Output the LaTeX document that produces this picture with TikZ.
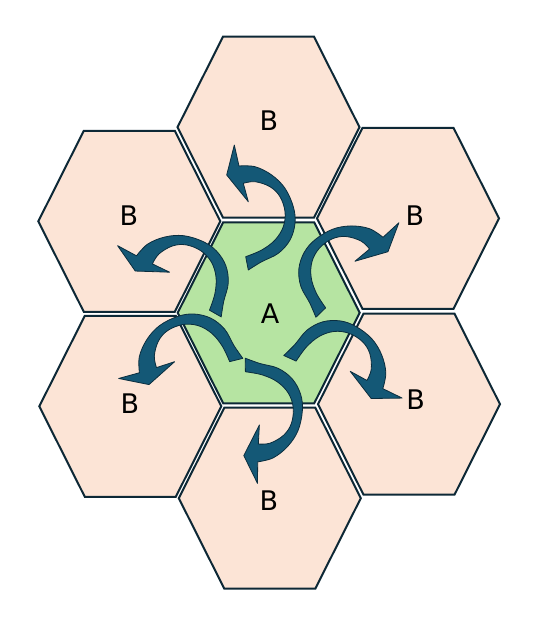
\documentclass[tikz,border=0pt]{standalone}
\usepackage{fontspec}
\setmainfont{DejaVu Sans}
\definecolor{hexline}{RGB}{13,40,54}
\definecolor{bfill}{RGB}{252,228,214}
\definecolor{afill}{RGB}{182,228,162}
\definecolor{arrfill}{RGB}{20,88,118}
\definecolor{arrline}{RGB}{10,45,62}
\newcommand{\hexcellat}[2]{%
  \draw[hexstyle, fill=#2, shift={#1}]
    (-91,0) -- (-45.5,-90.5) -- (45.5,-90.5) -- (91,0) -- (45.5,90.5) -- (-45.5,90.5) -- cycle;}
\newcommand{\jumparrowshape}{%
  \draw[arrowstyle]
    plot[smooth, tension=0.6] coordinates {(1.3,6.7) (14.7,-1.6) (31.3,-10) (43,-23.3) (48,-40) (46.3,-56.6) (38,-75) (24.7,-88.3) (8,-96.6) (-8,-97.3)}
    -- (-12.7,-118.3) -- (-20.3,-88.3) -- (1.3,-61.6)
    -- plot[smooth, tension=0.6] coordinates {(-3.7,-80) (8,-81.6) (23,-76.6) (33,-66.6) (38,-51.6) (36.3,-36.6) (28,-23.3) (14.7,-13.3) (-1.3,-6.6)}
    -- cycle;}
\tikzset{
  hexstyle/.style={draw=hexline, line width=2pt, line join=miter},
  arrowstyle/.style={fill=arrfill, draw=arrline, line width=0.8pt, line join=round},
  lab/.style={inner sep=0pt, anchor=base, font=\fontsize{27}{30}\selectfont}
}
\begin{document}
\begin{tikzpicture}[x=1pt, y=-1pt]
\useasboundingbox (0,0) rectangle (536,618);
% hexagons
\hexcellat{(268.5,127.2)}{bfill}
\hexcellat{(129.3,221.3)}{bfill}
\hexcellat{(408,218.3)}{bfill}
\hexcellat{(130.3,406.3)}{bfill}
\hexcellat{(409,404.2)}{bfill}
\hexcellat{(269.8,498.2)}{bfill}
\hexcellat{(268.7,312.8)}{afill}
% labels
\node[lab] (btop) at (269,130.5) {B};
\node[lab] (bul) at (129,225) {B};
\node[lab] (bur) at (415,225) {B};
\node[lab] (a) at (270,323.3) {A};
\node[lab] (bll) at (130,413.3) {B};
\node[lab] (blr) at (415.7,409.3) {B};
\node[lab] (bbot) at (269,510) {B};
% arrows
\begin{scope}[shift={(247,263.3)}]
  \jumparrowshape
\end{scope}
\begin{scope}[shift={(320.8,312.5)}, rotate=-34.9, xscale=-1]
  \jumparrowshape
\end{scope}
\begin{scope}[shift={(290,358.3)}, rotate=-103.4, xscale=-1]
  \jumparrowshape
\end{scope}
\begin{scope}[shift={(245.3,365)}, rotate=-168, xscale=-1]
  \jumparrowshape
\end{scope}
\begin{scope}[shift={(236.2,360)}, rotate=92.8]
  \jumparrowshape
\end{scope}
\begin{scope}[shift={(215.3,313.5)}, rotate=49.1]
  \jumparrowshape
\end{scope}
\end{tikzpicture}
\end{document}
